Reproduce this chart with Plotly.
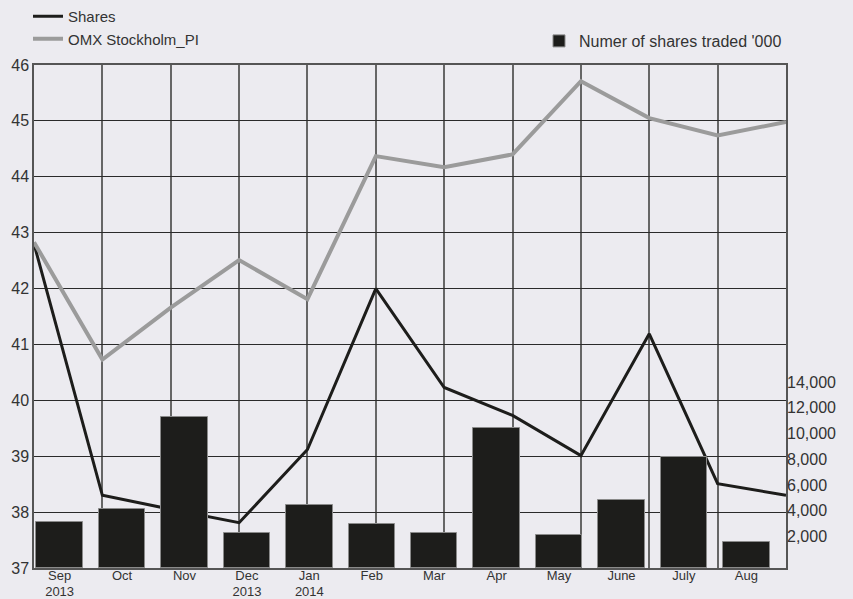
import plotly.graph_objects as go

months = ["Sep", "Oct", "Nov", "Dec", "Jan", "Feb", "Mar",
          "Apr", "May", "June", "July", "Aug"]
years = ["2013", "", "", "2013", "2014", "", "", "", "", "", "", ""]
shares = [42.8, 38.3, 38.05, 37.81, 39.12, 42.0, 40.23, 39.73, 39.01, 41.19, 38.51, 38.3]
omx = [42.83, 40.73, 41.66, 42.51, 41.81, 44.37, 44.17, 44.40, 45.71, 45.05, 44.74, 44.98]
traded = [3610, 4590, 11750, 2755, 4880, 3425, 2725, 10870, 2570, 5270, 8640, 2025]
right_ticks = [2000, 4000, 6000, 8000, 10000, 12000, 14000]

idx = list(range(len(months)))
BG = "#ECEBF0"
FONT = "Liberation Sans, Arial, sans-serif"
NARROW = "Liberation Sans Narrow, Arial Narrow, Liberation Sans, sans-serif"

fig = go.Figure()
fig.add_trace(go.Scatter(x=idx, y=shares, name="Shares", mode="lines",
                         line=dict(color="#1d1d1b", width=3), legend="legend",
                         xaxis="x", yaxis="y"))
fig.add_trace(go.Scatter(x=idx, y=omx, name="OMX Stockholm_PI", mode="lines",
                         line=dict(color="#9b9b9b", width=4), legend="legend",
                         xaxis="x", yaxis="y"))
fig.add_trace(go.Bar(x=idx, y=traded, name="Numer of shares traded '000",
                     marker=dict(color="#1d1d1b", line=dict(color="#8a8a8a", width=1)),
                     width=0.745, legend="legend2", xaxis="x2", yaxis="y2"))
# invisible helper trace so the year axis is drawn
fig.add_trace(go.Scatter(x=idx, y=traded, mode="markers", marker=dict(opacity=0),
                         showlegend=False, hoverinfo="skip", xaxis="x3", yaxis="y2"))

fig.update_layout(
    width=853, height=599,
    margin=dict(l=34, r=67, t=65, b=31, autoexpand=False),
    paper_bgcolor=BG, plot_bgcolor=BG,
    font=dict(family=FONT, size=15, color="#333333"),
    xaxis=dict(range=[0, 11], dtick=1, tick0=0, showticklabels=False,
               showgrid=True, gridcolor="#666666", gridwidth=1.5,
               showline=True, linecolor="#555555", linewidth=1.5, mirror=True,
               zeroline=False, ticks="", automargin=False),
    yaxis=dict(range=[37, 46], dtick=1, showgrid=True, gridcolor="#2a2a2a", gridwidth=1.2,
               showline=True, linecolor="#555555", linewidth=1.5, mirror=True,
               zeroline=False, ticks="", automargin=False,
               tickfont=dict(size=16, color="#333333")),
    xaxis2=dict(overlaying="x", side="bottom", range=[-0.41, 11.635],
                tickmode="array", tickvals=idx, ticktext=months, tickangle=0,
                ticklabelstandoff=-2,
                showgrid=False, zeroline=False, ticks="", automargin=False,
                tickfont=dict(family=NARROW, size=13, color="#333333")),
    xaxis3=dict(overlaying="x", side="bottom", range=[-0.41, 11.635],
                tickmode="array", tickvals=idx, ticktext=years, tickangle=0,
                ticklabelstandoff=14,
                showgrid=False, zeroline=False, ticks="", automargin=False,
                tickfont=dict(family=NARROW, size=13, color="#333333")),
    yaxis2=dict(overlaying="y", side="right", range=[0, 39150],
                tickmode="array", tickvals=right_ticks,
                tickformat=",d", showgrid=False, zeroline=False, ticks="",
                ticklabelshift=-6, automargin=False,
                tickfont=dict(size=16, color="#333333")),
    legend=dict(x=28 / 853, xref="container", xanchor="left",
                y=1.0, yref="container", yanchor="top",
                bgcolor="rgba(0,0,0,0)", font=dict(size=15, color="#333333"),
                itemwidth=30, tracegroupgap=0),
    legend2=dict(x=539 / 853, xref="container", xanchor="left",
                 y=1 - 24 / 599, yref="container", yanchor="top",
                 bgcolor="rgba(0,0,0,0)", font=dict(size=16, color="#333333"),
                 itemwidth=30),
    bargap=0,
)

fig.write_html("out.html")
